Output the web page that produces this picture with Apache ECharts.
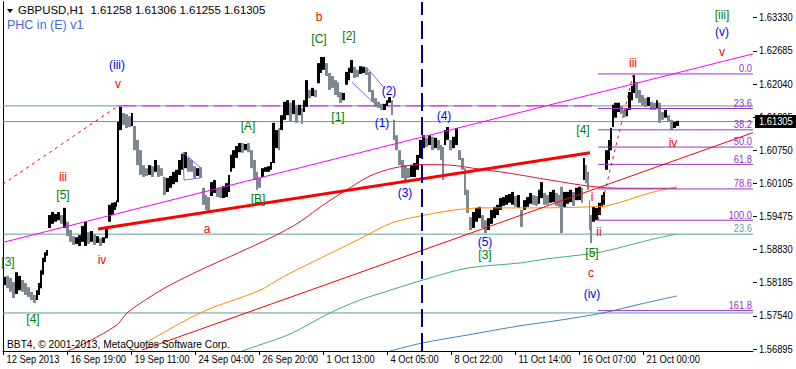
<!DOCTYPE html>
<html><head><meta charset="utf-8">
<script src="https://cdn.jsdelivr.net/npm/echarts@6/dist/echarts.min.js"></script>
<style>html,body{margin:0;padding:0;background:#fff;overflow:hidden}#c{width:796px;height:369px}</style>
</head><body><div id="c"></div>
<script>
// ---------- DATA ----------
const xLabels = ['12 Sep 2013','16 Sep 19:00','19 Sep 11:00','24 Sep 04:00','26 Sep 20:00','1 Oct 13:00','4 Oct 05:00','8 Oct 22:00','11 Oct 14:00','16 Oct 07:00','21 Oct 00:00'];
const xLabelBars = [0,64,128,192,256,320,384,448,512,576,640];
const yTicks = [1.63330,1.62685,1.62040,1.61395,1.60750,1.60105,1.59475,1.58830,1.58185,1.57540,1.56895];
const barRange = [0, 750];
const priceRange = [1.56851, 1.63627];

const barIdx = [0,3,6,9,12,15,18,21,24,27,30,33,35,37,39,41,43,45,48,51,54,57,60,63,66,69,72,75,78,81,84,87,90,93,96,99,102,105,108,111,113,114,116,119,122,125,128,130,133,136,139,142,145,148,151,154,157,160,163,166,169,172,175,178,181,184,187,190,193,196,199,202,204,207,210,213,216,219,222,225,227,229,232,235,238,241,244,247,250,253,255,258,261,264,267,269,272,275,277,280,283,286,289,292,295,298,300,302,305,308,311,314,317,319,322,325,328,331,334,336,339,342,345,347,350,353,356,359,362,365,368,371,374,377,380,383,385,388,390,392,395,398,401,404,407,410,413,416,419,422,425,428,431,434,437,439,441,443,446,449,452,455,458,461,463,466,469,472,475,478,481,484,487,490,493,496,499,502,505,508,511,514,517,520,523,526,529,532,535,537,540,543,546,549,552,555,557,560,563,566,569,572,575,578,580,582,584,586,587,589,592,595,598,600,602,605,607,609,611,614,617,620,623,625,628,630,632,635,638,641,644,647,650,653,655,658,661,664,667,670,673];
const barHigh = [1.5829,1.5831,1.5827,1.5819,1.5838,1.5831,1.5823,1.5817,1.5809,1.5800,1.5794,1.5803,1.5817,1.5842,1.5866,1.5877,1.5881,1.5949,1.5955,1.5951,1.5955,1.5949,1.5963,1.5936,1.5920,1.5908,1.5906,1.5910,1.5928,1.5936,1.5916,1.5918,1.5912,1.5908,1.5904,1.5906,1.5924,1.5969,1.5973,1.5974,1.5978,1.6130,1.6159,1.6147,1.6145,1.6141,1.6147,1.6122,1.6095,1.6075,1.6046,1.6040,1.6046,1.6044,1.6056,1.6046,1.6040,1.6023,1.6021,1.6025,1.6033,1.6037,1.6056,1.6068,1.6071,1.6060,1.6056,1.6044,1.6040,1.6042,1.6002,1.5988,1.5984,1.6013,1.6017,1.6002,1.6002,1.6005,1.6011,1.6027,1.6066,1.6075,1.6083,1.6089,1.6089,1.6087,1.6089,1.6075,1.6056,1.6033,1.6021,1.6040,1.6042,1.6044,1.6052,1.6128,1.6114,1.6118,1.6143,1.6169,1.6172,1.6167,1.6172,1.6159,1.6163,1.6157,1.6172,1.6211,1.6192,1.6196,1.6192,1.6244,1.6256,1.6256,1.6244,1.6225,1.6219,1.6211,1.6207,1.6188,1.6186,1.6227,1.6235,1.6250,1.6237,1.6231,1.6238,1.6237,1.6235,1.6227,1.6192,1.6176,1.6169,1.6165,1.6165,1.6172,1.6178,1.6172,1.6134,1.6104,1.6075,1.6056,1.6046,1.6040,1.6046,1.6050,1.6066,1.6095,1.6104,1.6099,1.6104,1.6101,1.6099,1.6095,1.6085,1.6081,1.6114,1.6120,1.6095,1.6101,1.6118,1.6075,1.6060,1.6040,1.5998,1.5945,1.5955,1.5963,1.5965,1.5949,1.5939,1.5943,1.5959,1.5965,1.5969,1.5982,1.5984,1.5988,1.5990,1.5994,1.5986,1.5988,1.5959,1.5978,1.5984,1.5992,1.5988,1.5986,1.5998,1.6013,1.5992,1.5988,1.5994,1.5998,1.5992,1.5988,1.6004,1.5994,1.5994,1.5998,1.5994,1.6002,1.6004,1.6002,1.6060,1.6046,1.6033,1.5978,1.5949,1.5965,1.5963,1.5973,1.5988,1.5994,1.6075,1.6095,1.6118,1.6163,1.6167,1.6167,1.6161,1.6153,1.6157,1.6188,1.6200,1.6221,1.6207,1.6192,1.6182,1.6176,1.6178,1.6169,1.6167,1.6172,1.6167,1.6149,1.6153,1.6143,1.6134,1.6130,1.6132];
const barLow = [1.5813,1.5807,1.5800,1.5788,1.5796,1.5803,1.5800,1.5794,1.5790,1.5784,1.5778,1.5784,1.5794,1.5807,1.5833,1.5858,1.5870,1.5924,1.5932,1.5936,1.5939,1.5932,1.5924,1.5908,1.5897,1.5891,1.5893,1.5889,1.5897,1.5889,1.5893,1.5897,1.5891,1.5895,1.5889,1.5895,1.5904,1.5936,1.5949,1.5959,1.5965,1.5974,1.6114,1.6124,1.6118,1.6120,1.6122,1.6075,1.6046,1.6027,1.6023,1.6025,1.6027,1.6023,1.6033,1.6023,1.6025,1.5988,1.5994,1.6002,1.6009,1.6013,1.6027,1.6037,1.6040,1.6033,1.6033,1.6021,1.6025,1.6021,1.5969,1.5959,1.5955,1.5986,1.5992,1.5984,1.5982,1.5982,1.5984,1.5994,1.6033,1.6040,1.6060,1.6071,1.6070,1.6075,1.6071,1.6040,1.6017,1.5998,1.6002,1.6023,1.6033,1.6033,1.6037,1.6050,1.6079,1.6075,1.6114,1.6134,1.6143,1.6130,1.6145,1.6128,1.6143,1.6126,1.6149,1.6159,1.6176,1.6180,1.6178,1.6205,1.6225,1.6231,1.6219,1.6192,1.6196,1.6182,1.6178,1.6167,1.6172,1.6202,1.6211,1.6225,1.6215,1.6217,1.6223,1.6225,1.6221,1.6188,1.6169,1.6159,1.6157,1.6153,1.6153,1.6161,1.6167,1.6143,1.6095,1.6075,1.6046,1.6021,1.6017,1.6021,1.6023,1.6023,1.6037,1.6060,1.6079,1.6081,1.6085,1.6075,1.6079,1.6075,1.6056,1.6017,1.6085,1.6095,1.6075,1.6079,1.6085,1.6056,1.6037,1.5988,1.5953,1.5920,1.5924,1.5936,1.5943,1.5924,1.5914,1.5920,1.5932,1.5943,1.5949,1.5959,1.5967,1.5969,1.5973,1.5969,1.5965,1.5963,1.5926,1.5959,1.5965,1.5971,1.5969,1.5967,1.5971,1.5982,1.5969,1.5969,1.5973,1.5974,1.5967,1.5965,1.5914,1.5965,1.5971,1.5974,1.5967,1.5978,1.5978,1.5973,1.6017,1.6011,1.5998,1.5920,1.5895,1.5936,1.5939,1.5949,1.5965,1.5969,1.6037,1.6056,1.6075,1.6120,1.6138,1.6149,1.6145,1.6139,1.6141,1.6153,1.6172,1.6186,1.6176,1.6167,1.6161,1.6159,1.6161,1.6153,1.6153,1.6157,1.6128,1.6134,1.6138,1.6130,1.6114,1.6118,1.6122];

const maCrimson = [[65,1.5685],[87,1.5705],[114,1.5736],[124,1.5759],[147,1.5790],[167,1.5813],[197,1.5842],[230,1.5871],[257,1.5895],[279,1.5916],[297,1.5936],[322,1.5971],[347,1.6002],[367,1.6025],[390,1.6040],[417,1.6047],[447,1.6046],[477,1.6038],[504,1.6031],[547,1.6017],[587,1.6005],[620,1.6001],[674,1.6001]];
const maOrange = [[129,1.5685],[197,1.5759],[257,1.5803],[280,1.5829],[314,1.5862],[355,1.5901],[389,1.5934],[422,1.5949],[452,1.5959],[480,1.5963],[537,1.5963],[587,1.5965],[604,1.5967],[647,1.5992],[674,1.6004]];
const maGreen = [[239,1.5685],[257,1.5697],[287,1.5718],[327,1.5759],[357,1.5784],[387,1.5803],[420,1.5823],[464,1.5846],[517,1.5856],[544,1.5864],[597,1.5877],[647,1.5901],[673,1.5912]];
const maBlue = [[387,1.5685],[420,1.5701],[464,1.5716],[517,1.5734],[557,1.5745],[600,1.5759],[637,1.5776],[674,1.5792]];

const trendMagenta = [[0,1.5896],[750,1.6262]];
const trendRedThick = [[95,1.5922],[587,1.6070]];
const trendRedThin = [[139,1.5687],[750,1.6109]];
const dotRed1 = [[0,1.6009],[115,1.6161]];
const dotRed2 = [[595,1.5939],[630,1.6221]];
const levelMagenta = [[115,1.6161],[592,1.6161]];
const triangleLines = [[180,1.6071],[197,1.6042],[197,1.6021],[181,1.6017],[180,1.6071]];
const channelLine1 = [[349,1.6207],[375,1.6159]];
const channelLine2 = [[363,1.6237],[382,1.6194]];
const verticalBar = 419;

const tealLevels = [1.6161, 1.5912, 1.5759];
const tealLabel = ['23.6', 1.5912];
const bidPrice = 1.61305;

const fibStartBar = 595;
const fib0 = 1.6223, fib100 = 1.5939;
const fibLevels = [0, 23.6, 38.2, 50, 61.8, 78.6, 100, 161.8];

const blueLabels = [['(iii)',114,1.6240],['(1)',379,1.6128],['(2)',386,1.6190],['(4)',441,1.6141],['(3)',402,1.5992],['(5)',482,1.5897],['(iv)',589,1.5796],['(v)',719,1.6304]];
const greenLabels = [['[C]',316,1.6291],['[2]',346,1.6297],['[A]',245,1.6122],['[1]',335,1.6139],['[5]',60,1.5988],['[B]',255,1.5980],['[3]',5,1.5858],['[4]',30,1.5747],['[3]',482,1.5872],['[4]',580,1.6114],['[5]',589,1.5876],['[iii]',719,1.6337]];
const redLabels = [['v',115,1.6204],['b',316,1.6334],['iii',60,1.6023],['a',204,1.5922],['iv',99,1.5862],['iii',630,1.6244],['iv',670,1.6089],['i',589,1.5984],['ii',596,1.5916],['c',588,1.5837],['v',719,1.6266]];

// ---------- RENDER ----------
const SANS = '"Liberation Sans",Arial,sans-serif';
const FONT_AX = '11px ' + SANS;   // drawn horizontally condensed (MT4 Tahoma look)
const NARROW = 0.85;
const FONT_LB = '12px ' + SANS;

const chart = echarts.init(document.getElementById('c'), null, {renderer:'svg', width:796, height:369});

function lineS(data, color, width, type, z, smooth){
  return {type:'line', data, symbol:'none', silent:true, animation:false, z:z, smooth:smooth||false,
    lineStyle:{color, width, type:type||'solid'}, clip:true};
}
function textS(items, color, font, align, vAlign, z, sx){
  return {type:'custom', silent:true, animation:false, z:z, clip:false,
    data: items.map(d=>[d[1], d[2]]),
    renderItem:(params, api)=>{
      const it = items[params.dataIndex];
      const p = api.coord([api.value(0), api.value(1)]);
      return {type:'text', x:p[0], y:p[1], scaleX:sx||1, style:{text:it[0], fill:color, font, align, verticalAlign:vAlign}};
    }};
}

const series = [];
// bars
series.push({type:'custom', silent:true, animation:false, z:2, clip:true,
  data: barIdx.map((x,i)=>[x, barLow[i], barHigh[i]]),
  renderItem:(params, api)=>{
    const i = params.dataIndex;
    const x = api.value(0), lo = api.value(1), hi = api.value(2);
    const nx = i < barIdx.length-1 ? barIdx[i+1] : x+3;
    const p1 = api.coord([x, hi]), p2 = api.coord([nx, lo]);
    const prevMid = i>0 ? (barHigh[i-1]+barLow[i-1])/2 : lo;
    const up = (hi+lo)/2 >= prevMid;
    return {type:'rect', shape:{x:p1[0], y:p1[1], width:Math.max(1,p2[0]-p1[0]), height:Math.max(1,p2[1]-p1[1])},
      style:{fill: up ? '#000000' : '#7d8893'}};
  }});
// horizontal levels
tealLevels.forEach(v=>series.push(lineS([[barRange[0],v],[barRange[1],v]], '#5f9ea0', 1, 'solid', 1)));
series.push(lineS([[barRange[0],bidPrice],[barRange[1],bidPrice]], '#778899', 1, 'solid', 1));
series.push(lineS(levelMagenta, '#ff00ff', 1, [18,6], 1));
// MAs
series.push(lineS(maCrimson, '#dc143c', 1, 'solid', 3, 0.3));
series.push(lineS(maOrange, '#ff8c00', 1, 'solid', 3, 0.3));
series.push(lineS(maGreen, '#3cb371', 1, 'solid', 3, 0.3));
series.push(lineS(maBlue, '#4682b4', 1, 'solid', 3, 0.3));
// fib
fibLevels.forEach(l=>{
  const v = fib0 - l/100*(fib0-fib100);
  series.push(lineS([[fibStartBar,v],[barRange[1],v]], '#9932cc', 1, 'solid', 4));
});
// trend lines
series.push(lineS(trendMagenta, '#ff00ff', 1, 'solid', 5));
series.push(lineS(trendRedThin, '#ff0000', 1, 'solid', 5));
series.push(lineS(trendRedThick, '#ff0000', 3, 'solid', 5));
series.push(lineS(dotRed1, '#ff0000', 1, [3,4], 5));
series.push(lineS(dotRed2, '#ff0000', 1, [3,4], 5));
series.push(lineS(triangleLines, '#7b68ee', 1, 'solid', 5));
series.push(lineS(channelLine1, '#7b68ee', 1, 'solid', 5));
series.push(lineS(channelLine2, '#7b68ee', 1, 'solid', 5));
series.push(lineS([[verticalBar,priceRange[0]],[verticalBar,priceRange[1]]], '#00008b', 2, [18,6], 5));
// wave labels
series.push(textS(blueLabels, '#0000ff', FONT_LB, 'center', 'middle', 7));
series.push(textS(greenLabels, '#008000', FONT_LB, 'center', 'middle', 7));
series.push(textS(redLabels, '#ff0000', FONT_LB, 'center', 'middle', 7));
// fib labels
series.push(textS(fibLevels.map(l=>[l.toFixed(1), 749, fib0 - l/100*(fib0-fib100)]), '#9932cc', FONT_AX, 'right', 'bottom', 7, NARROW));
series.push(textS([[tealLabel[0], 749, tealLabel[1]]], '#5f9ea0', FONT_AX, 'right', 'bottom', 7, NARROW));
// y axis ticks + labels
series.push({type:'custom', silent:true, animation:false, z:8, clip:false,
  data: yTicks.map(v=>[barRange[1], v]),
  renderItem:(params, api)=>{
    const p = api.coord([api.value(0), api.value(1)]);
    return {type:'group', children:[
      {type:'line', shape:{x1:p[0], y1:Math.round(p[1])+0.5, x2:p[0]+4, y2:Math.round(p[1])+0.5}, style:{stroke:'#000', lineWidth:1}},
      {type:'text', x:p[0]+6, y:p[1], scaleX:NARROW, style:{text:yTicks[params.dataIndex].toFixed(5), fill:'#000', font:FONT_AX, align:'left', verticalAlign:'middle'}}
    ]};
  }});
// x axis ticks + labels
series.push({type:'custom', silent:true, animation:false, z:8, clip:false,
  data: xLabelBars.map(b=>[b, priceRange[0]]),
  renderItem:(params, api)=>{
    const p = api.coord([api.value(0), api.value(1)]);
    const x = Math.round(p[0])+0.5;
    return {type:'group', children:[
      {type:'line', shape:{x1:x, y1:p[1], x2:x, y2:p[1]+4}, style:{stroke:'#000', lineWidth:1}},
      {type:'text', x:p[0]+3.5, y:p[1]+3, scaleX:NARROW, style:{text:xLabels[params.dataIndex], fill:'#000', font:FONT_AX, align:'left', verticalAlign:'top'}}
    ]};
  }});
// current price box
series.push({type:'custom', silent:true, animation:false, z:9, clip:false,
  data: [[barRange[1], bidPrice]],
  renderItem:(params, api)=>{
    const p = api.coord([api.value(0), api.value(1)]);
    return {type:'group', children:[
      {type:'rect', shape:{x:p[0]+2, y:p[1]-6.5, width:45, height:13}, style:{fill:'#000'}},
      {type:'text', x:p[0]+6, y:p[1], scaleX:NARROW, style:{text:bidPrice.toFixed(5), fill:'#fff', font:FONT_AX, align:'left', verticalAlign:'middle'}}
    ]};
  }});

const axisOff = {show:false};
chart.setOption({
  animation:false,
  backgroundColor:'#ffffff',
  grid:{left:3, right:43, top:2, bottom:18},
  xAxis:{type:'value', min:barRange[0], max:barRange[1], axisLine:{show:true, onZero:false, lineStyle:{color:'#000'}}, axisTick:axisOff, axisLabel:axisOff, splitLine:axisOff},
  yAxis:[
    {type:'value', position:'right', min:priceRange[0], max:priceRange[1], axisLine:{show:true, lineStyle:{color:'#000'}}, axisTick:axisOff, axisLabel:axisOff, splitLine:axisOff},
    {type:'value', position:'left', min:priceRange[0], max:priceRange[1], axisLine:{show:true, lineStyle:{color:'#000'}}, axisTick:axisOff, axisLabel:axisOff, splitLine:axisOff}
  ],
  graphic:[
    {type:'polygon', shape:{points:[[7,9],[13,9],[10,13]]}, style:{fill:'#000'}, z:10},
    {type:'text', x:18, y:10.5, scaleX:1.04, style:{text:'GBPUSD,H1  1.61258 1.61306 1.61255 1.61305', fill:'#000', font:FONT_AX, verticalAlign:'middle'}, z:10},
    {type:'text', x:7, y:25, style:{text:'PHC in (E) v1', fill:'#4169e1', font:'12.5px '+SANS, verticalAlign:'middle'}, z:10},
    {type:'text', x:7, y:344, scaleX:0.93, style:{text:'BBT4, © 2001-2013, MetaQuotes Software Corp.', fill:'#000', font:FONT_AX, verticalAlign:'middle'}, z:10}
  ],
  series
});
</script>
</body></html>
